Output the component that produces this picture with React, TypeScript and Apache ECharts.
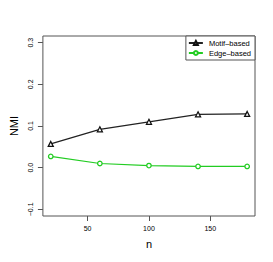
import React, { useEffect, useRef } from "react";
import * as echarts from "echarts";

const nValues = [20, 60, 100, 140, 180];
const motifBased = [0.057, 0.092, 0.11, 0.128, 0.129];
const edgeBased = [0.027, 0.01, 0.005, 0.003, 0.003];
const xTicks = [50, 100, 150];
const yTicks = [-0.1, 0, 0.1, 0.2, 0.3];
const seriesNames = ["Motif\u2013based", "Edge\u2013based"];

const fmtY = (v: number) => {
  const s = v.toFixed(1);
  return s.startsWith("-") ? "\u2212" + s.slice(1) : s;
};

export default function App() {
  const ref = useRef<HTMLDivElement>(null);
  useEffect(() => {
    if (!ref.current) return;
    const chart = echarts.init(ref.current, null, { renderer: "svg" });
    const font = "Liberation Sans, Arial, sans-serif";
    chart.setOption({
      animation: false,
      backgroundColor: "#fff",
      grid: {
        left: 35,
        right: 18,
        top: 36,
        bottom: 46,
        show: true,
        borderColor: "#555",
        borderWidth: 1,
        backgroundColor: "transparent",
      },
      legend: {
        right: 18,
        top: 36,
        orient: "vertical",
        itemWidth: 14,
        itemHeight: 5,
        itemGap: 2,
        padding: [3, 4, 3, 2],
        borderColor: "#555",
        borderWidth: 1,
        borderRadius: 0,
        backgroundColor: "#fff",
        textStyle: { fontSize: 7.5, fontFamily: font, color: "#000", padding: [0, 0, 0, 1] },
        data: seriesNames,
      },
      xAxis: {
        type: "value",
        min: 13.6,
        max: 186.4,
        name: "n",
        nameLocation: "middle",
        nameGap: 22,
        nameTextStyle: { fontSize: 11, fontFamily: font, color: "#000" },
        axisLine: { show: false, onZero: false },
        splitLine: { show: false },
        axisTick: { show: true, length: 5, customValues: xTicks, lineStyle: { color: "#555" } },
        axisLabel: {
          customValues: xTicks,
          fontSize: 7,
          fontFamily: font,
          color: "#000",
          margin: 9,
        },
      },
      yAxis: {
        type: "value",
        min: -0.116,
        max: 0.316,
        name: "NMI",
        nameLocation: "middle",
        nameGap: 23,
        nameTextStyle: { fontSize: 11, fontFamily: font, color: "#000" },
        axisLine: { show: false, onZero: false },
        splitLine: { show: false },
        axisTick: { show: true, length: 5, customValues: yTicks, lineStyle: { color: "#555" } },
        axisLabel: {
          customValues: yTicks,
          fontSize: 7,
          fontFamily: font,
          color: "#000",
          rotate: 90,
          margin: 9,
          formatter: (v: number) => fmtY(v),
        },
      },
      series: [
        {
          name: seriesNames[0],
          type: "line",
          data: nValues.map((n, i) => [n, motifBased[i]]),
          symbol: "triangle",
          symbolSize: 5,
          color: "#111",
          lineStyle: { color: "#222", width: 1.2 },
          itemStyle: { color: "#fff", borderColor: "#111", borderWidth: 1.3 },
        },
        {
          name: seriesNames[1],
          type: "line",
          data: nValues.map((n, i) => [n, edgeBased[i]]),
          symbol: "circle",
          symbolSize: 4.5,
          color: "#22cc22",
          lineStyle: { color: "#22cc22", width: 1.2 },
          itemStyle: { color: "#fff", borderColor: "#22cc22", borderWidth: 1.3 },
        },
      ],
    });
    return () => chart.dispose();
  }, []);
  return <div ref={ref} style={{ width: 273, height: 262, position: "absolute", left: 0, top: 0 }} />;
}
